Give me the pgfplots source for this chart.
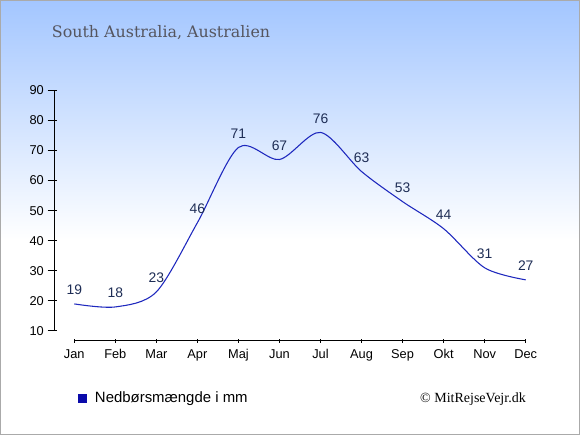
\documentclass[border=0pt]{standalone}
\usepackage{pgfplots}
\pgfplotsset{compat=1.18}
\usepackage{fontspec}
\setmainfont{Liberation Sans}
\newfontfamily\titlefont{DejaVu Serif}
\newfontfamily\copyfont{Liberation Serif}
\definecolor{topc}{RGB}{163,198,255}
\definecolor{linec}{RGB}{30,40,190}
\definecolor{legc}{RGB}{10,10,170}
\definecolor{valc}{RGB}{30,45,85}
\definecolor{titc}{RGB}{85,85,95}
\definecolor{bordc}{RGB}{170,170,170}
\begin{document}
\begin{tikzpicture}
\begin{scope}[x=0.75pt,y=0.75pt]
\useasboundingbox (0,0) rectangle (580,435);
\fill[white] (0,0) rectangle (580,435);
\shade[top color=topc, bottom color=white] (0,195) rectangle (580,435);
\draw[bordc, line width=0.75pt] (0.5,0.5) rectangle (579.5,434.5);
\node[anchor=base west, inner sep=0pt, text=titc, font=\titlefont\fontsize{11.9}{14}\selectfont] at (51.7,397.3) {South Australia, Australien};
\node[anchor=east, inner sep=0pt, text=black, font=\copyfont\fontsize{10.5}{12}\selectfont] at (526,36) {© MitRejseVejr.dk};
\end{scope}
\begin{axis}[
  at={(40.725pt,70.875pt)}, anchor=south west,
  scale only axis, width=353.55pt, height=187.65pt,
  xmin=-0.487, xmax=11, ymin=6.84, ymax=90,
  axis lines*=left, axis line style={draw=none},
  clip=false,
  xtick={0,...,11},
  xticklabels={Jan,Feb,Mar,Apr,Maj,Jun,Jul,Aug,Sep,Okt,Nov,Dec},
  minor xtick={0,...,11},
  ytick={10,20,...,90},
  tick align=center,
  major tick length=6.75pt,
  minor tick length=3pt,
  tick style={black, line width=0.75pt},
  major x tick style={draw=none},
  minor x tick style={black, line width=0.75pt},
  major y tick style={xshift=-1.6pt},
  tick label style={font=\fontsize{9.6}{11}\selectfont, text=black},
  /pgf/number format/assume math mode=true,
  yticklabel style={xshift=-1pt},
  legend style={at={(0.0488,-0.231)}, anchor=west, draw=none, fill=none,
    font=\fontsize{11.2}{13}\selectfont, inner sep=0pt},
  legend cell align=left,
  legend image code/.code={\fill[legc] (0pt,-3pt) rectangle (6.5pt,3pt); \path (10.25pt,0pt);},
]
\addplot[linec, line width=0.8pt, smooth, mark=none,
  nodes near coords,
  every node near coord/.append style={anchor=center, yshift=10.4pt, inner sep=0pt,
    font=\fontsize{10.4}{12}\selectfont, text=valc}]
  coordinates {(0,19) (1,18) (2,23) (3,46) (4,71) (5,67) (6,76) (7,63) (8,53) (9,44) (10,31) (11,27)};
\addlegendentry{Nedbørsmængde i mm}
\draw[black, line width=0.75pt] (axis cs:-0.487,10) -- (axis cs:-0.487,90);
\draw[black, line width=0.75pt] (axis cs:0,6.84) -- (axis cs:11,6.84);
\end{axis}
\end{tikzpicture}
\end{document}
